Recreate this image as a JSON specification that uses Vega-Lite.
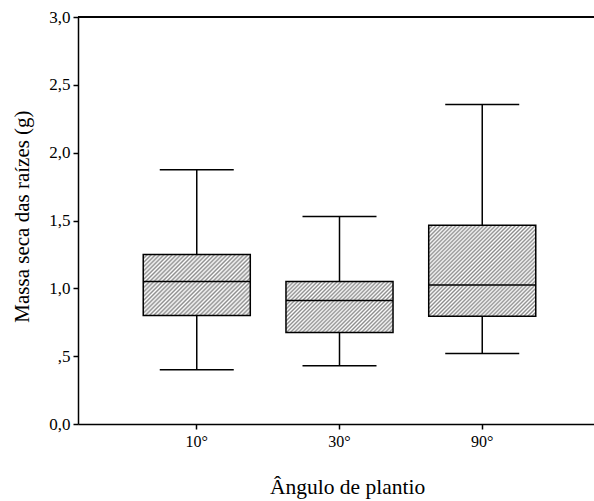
{
  "$schema": "https://vega.github.io/schema/vega-lite/v6.json",
  "width": 516,
  "height": 407,
  "autosize": {"type": "none"},
  "padding": {"left": 78, "top": 17, "right": 0, "bottom": 77},
  "background": "white",
  "config": {
    "view": {"stroke": null},
    "font": "Liberation Serif",
    "axis": {
      "domainColor": "black", "domainWidth": 1.5,
      "tickColor": "black", "tickWidth": 1.5, "tickSize": 5,
      "labelFont": "Liberation Serif", "labelColor": "black",
      "titleFont": "Liberation Serif", "titleColor": "black", "titleFontWeight": "normal",
      "grid": false
    }
  },
  "data": {
    "values": [
      {"angulo": "10°", "min": 0.40, "q1": 0.80, "median": 1.05, "q3": 1.25, "max": 1.875},
      {"angulo": "30°", "min": 0.43, "q1": 0.675, "median": 0.91, "q3": 1.05, "max": 1.53},
      {"angulo": "90°", "min": 0.52, "q1": 0.795, "median": 1.025, "q3": 1.465, "max": 2.355}
    ]
  },
  "layer": [
    {
      "mark": {"type": "rule", "color": "black", "strokeWidth": 1.5},
      "encoding": {
        "x": {
          "field": "angulo", "type": "nominal",
          "scale": {"type": "band", "domain": ["10°", "30°", "90°"], "range": [0, 523], "paddingInner": 0, "paddingOuter": 0.332},
          "axis": {"title": "Ângulo de plantio", "labelAngle": 0, "labelFontSize": 16, "labelPadding": 4, "titleFontSize": 21.5, "titlePadding": 27, "titleX": 269}
        },
        "y": {"field": "min", "type": "quantitative", "title": "Massa seca das raízes (g)",
          "scale": {"domain": [0, 3], "nice": false, "zero": true},
          "axis": {"values": [0, 0.5, 1, 1.5, 2, 2.5, 3], "labelExpr": "datum.value == 0.5 ? ',5' : replace(format(datum.value, '.1f'), '.', ',')", "labelFontSize": 17, "labelPadding": 3, "titleFontSize": 21, "titlePadding": 16, "titleY": 199}},
        "y2": {"field": "q1"}
      }
    },
    {
      "mark": {"type": "rule", "color": "black", "strokeWidth": 1.5},
      "encoding": {
        "x": {"field": "angulo", "type": "nominal", "title": "Ângulo de plantio"},
        "y": {"field": "q3", "type": "quantitative", "title": "Massa seca das raízes (g)"},
        "y2": {"field": "max"}
      }
    },
    {
      "mark": {"type": "tick", "color": "black", "size": 74, "thickness": 1.5, "opacity": 1},
      "encoding": {
        "x": {"field": "angulo", "type": "nominal", "title": "Ângulo de plantio"},
        "y": {"field": "min", "type": "quantitative", "title": "Massa seca das raízes (g)"}
      }
    },
    {
      "mark": {"type": "tick", "color": "black", "size": 74, "thickness": 1.5, "opacity": 1},
      "encoding": {
        "x": {"field": "angulo", "type": "nominal", "title": "Ângulo de plantio"},
        "y": {"field": "max", "type": "quantitative", "title": "Massa seca das raízes (g)"}
      }
    },
    {
      "transform": [{"filter": "datum.angulo == '10°'"}],
      "mark": {"type": "bar", "width": {"band": 0.75}, "stroke": "black", "strokeWidth": 1.5,
        "fill": {"gradient": "linear", "x1": 0, "y1": 0, "x2": 1.185, "y2": 0.6758, "stops": [
          {"offset": 0, "color": "#8c8c8c"}, {"offset": 0.0125, "color": "#ffffff"}, {"offset": 0.025, "color": "#8c8c8c"}, {"offset": 0.0375, "color": "#ffffff"}, {"offset": 0.05, "color": "#8c8c8c"}, {"offset": 0.0625, "color": "#ffffff"}, {"offset": 0.075, "color": "#8c8c8c"}, {"offset": 0.0875, "color": "#ffffff"}, {"offset": 0.1, "color": "#8c8c8c"}, {"offset": 0.1125, "color": "#ffffff"}, {"offset": 0.125, "color": "#8c8c8c"}, {"offset": 0.1375, "color": "#ffffff"}, {"offset": 0.15, "color": "#8c8c8c"}, {"offset": 0.1625, "color": "#ffffff"}, {"offset": 0.175, "color": "#8c8c8c"}, {"offset": 0.1875, "color": "#ffffff"}, {"offset": 0.2, "color": "#8c8c8c"}, {"offset": 0.2125, "color": "#ffffff"}, {"offset": 0.225, "color": "#8c8c8c"}, {"offset": 0.2375, "color": "#ffffff"}, {"offset": 0.25, "color": "#8c8c8c"}, {"offset": 0.2625, "color": "#ffffff"}, {"offset": 0.275, "color": "#8c8c8c"}, {"offset": 0.2875, "color": "#ffffff"}, {"offset": 0.3, "color": "#8c8c8c"}, {"offset": 0.3125, "color": "#ffffff"}, {"offset": 0.325, "color": "#8c8c8c"}, {"offset": 0.3375, "color": "#ffffff"}, {"offset": 0.35, "color": "#8c8c8c"}, {"offset": 0.3625, "color": "#ffffff"}, {"offset": 0.375, "color": "#8c8c8c"}, {"offset": 0.3875, "color": "#ffffff"}, {"offset": 0.4, "color": "#8c8c8c"}, {"offset": 0.4125, "color": "#ffffff"}, {"offset": 0.425, "color": "#8c8c8c"}, {"offset": 0.4375, "color": "#ffffff"}, {"offset": 0.45, "color": "#8c8c8c"}, {"offset": 0.4625, "color": "#ffffff"}, {"offset": 0.475, "color": "#8c8c8c"}, {"offset": 0.4875, "color": "#ffffff"}, {"offset": 0.5, "color": "#8c8c8c"}, {"offset": 0.5125, "color": "#ffffff"}, {"offset": 0.525, "color": "#8c8c8c"}, {"offset": 0.5375, "color": "#ffffff"}, {"offset": 0.55, "color": "#8c8c8c"}, {"offset": 0.5625, "color": "#ffffff"}, {"offset": 0.575, "color": "#8c8c8c"}, {"offset": 0.5875, "color": "#ffffff"}, {"offset": 0.6, "color": "#8c8c8c"}, {"offset": 0.6125, "color": "#ffffff"}, {"offset": 0.625, "color": "#8c8c8c"}, {"offset": 0.6375, "color": "#ffffff"}, {"offset": 0.65, "color": "#8c8c8c"}, {"offset": 0.6625, "color": "#ffffff"}, {"offset": 0.675, "color": "#8c8c8c"}, {"offset": 0.6875, "color": "#ffffff"}, {"offset": 0.7, "color": "#8c8c8c"}, {"offset": 0.7125, "color": "#ffffff"}, {"offset": 0.725, "color": "#8c8c8c"}, {"offset": 0.7375, "color": "#ffffff"}, {"offset": 0.75, "color": "#8c8c8c"}, {"offset": 0.7625, "color": "#ffffff"}, {"offset": 0.775, "color": "#8c8c8c"}, {"offset": 0.7875, "color": "#ffffff"}, {"offset": 0.8, "color": "#8c8c8c"}, {"offset": 0.8125, "color": "#ffffff"}, {"offset": 0.825, "color": "#8c8c8c"}, {"offset": 0.8375, "color": "#ffffff"}, {"offset": 0.85, "color": "#8c8c8c"}, {"offset": 0.8625, "color": "#ffffff"}, {"offset": 0.875, "color": "#8c8c8c"}, {"offset": 0.8875, "color": "#ffffff"}, {"offset": 0.9, "color": "#8c8c8c"}, {"offset": 0.9125, "color": "#ffffff"}, {"offset": 0.925, "color": "#8c8c8c"}, {"offset": 0.9375, "color": "#ffffff"}, {"offset": 0.95, "color": "#8c8c8c"}, {"offset": 0.9625, "color": "#ffffff"}, {"offset": 0.975, "color": "#8c8c8c"}, {"offset": 0.9875, "color": "#ffffff"}, {"offset": 1, "color": "#8c8c8c"}
        ]}},
      "encoding": {
        "x": {"field": "angulo", "type": "nominal", "title": "Ângulo de plantio"},
        "y": {"field": "q1", "type": "quantitative", "title": "Massa seca das raízes (g)"},
        "y2": {"field": "q3"}
      }
    },
    {
      "transform": [{"filter": "datum.angulo == '30°'"}],
      "mark": {"type": "bar", "width": {"band": 0.75}, "stroke": "black", "strokeWidth": 1.5,
        "fill": {"gradient": "linear", "x1": 0, "y1": 0, "x2": 1.2034, "y2": 0.5722, "stops": [
          {"offset": 0, "color": "#8c8c8c"}, {"offset": 0.0125, "color": "#ffffff"}, {"offset": 0.025, "color": "#8c8c8c"}, {"offset": 0.0375, "color": "#ffffff"}, {"offset": 0.05, "color": "#8c8c8c"}, {"offset": 0.0625, "color": "#ffffff"}, {"offset": 0.075, "color": "#8c8c8c"}, {"offset": 0.0875, "color": "#ffffff"}, {"offset": 0.1, "color": "#8c8c8c"}, {"offset": 0.1125, "color": "#ffffff"}, {"offset": 0.125, "color": "#8c8c8c"}, {"offset": 0.1375, "color": "#ffffff"}, {"offset": 0.15, "color": "#8c8c8c"}, {"offset": 0.1625, "color": "#ffffff"}, {"offset": 0.175, "color": "#8c8c8c"}, {"offset": 0.1875, "color": "#ffffff"}, {"offset": 0.2, "color": "#8c8c8c"}, {"offset": 0.2125, "color": "#ffffff"}, {"offset": 0.225, "color": "#8c8c8c"}, {"offset": 0.2375, "color": "#ffffff"}, {"offset": 0.25, "color": "#8c8c8c"}, {"offset": 0.2625, "color": "#ffffff"}, {"offset": 0.275, "color": "#8c8c8c"}, {"offset": 0.2875, "color": "#ffffff"}, {"offset": 0.3, "color": "#8c8c8c"}, {"offset": 0.3125, "color": "#ffffff"}, {"offset": 0.325, "color": "#8c8c8c"}, {"offset": 0.3375, "color": "#ffffff"}, {"offset": 0.35, "color": "#8c8c8c"}, {"offset": 0.3625, "color": "#ffffff"}, {"offset": 0.375, "color": "#8c8c8c"}, {"offset": 0.3875, "color": "#ffffff"}, {"offset": 0.4, "color": "#8c8c8c"}, {"offset": 0.4125, "color": "#ffffff"}, {"offset": 0.425, "color": "#8c8c8c"}, {"offset": 0.4375, "color": "#ffffff"}, {"offset": 0.45, "color": "#8c8c8c"}, {"offset": 0.4625, "color": "#ffffff"}, {"offset": 0.475, "color": "#8c8c8c"}, {"offset": 0.4875, "color": "#ffffff"}, {"offset": 0.5, "color": "#8c8c8c"}, {"offset": 0.5125, "color": "#ffffff"}, {"offset": 0.525, "color": "#8c8c8c"}, {"offset": 0.5375, "color": "#ffffff"}, {"offset": 0.55, "color": "#8c8c8c"}, {"offset": 0.5625, "color": "#ffffff"}, {"offset": 0.575, "color": "#8c8c8c"}, {"offset": 0.5875, "color": "#ffffff"}, {"offset": 0.6, "color": "#8c8c8c"}, {"offset": 0.6125, "color": "#ffffff"}, {"offset": 0.625, "color": "#8c8c8c"}, {"offset": 0.6375, "color": "#ffffff"}, {"offset": 0.65, "color": "#8c8c8c"}, {"offset": 0.6625, "color": "#ffffff"}, {"offset": 0.675, "color": "#8c8c8c"}, {"offset": 0.6875, "color": "#ffffff"}, {"offset": 0.7, "color": "#8c8c8c"}, {"offset": 0.7125, "color": "#ffffff"}, {"offset": 0.725, "color": "#8c8c8c"}, {"offset": 0.7375, "color": "#ffffff"}, {"offset": 0.75, "color": "#8c8c8c"}, {"offset": 0.7625, "color": "#ffffff"}, {"offset": 0.775, "color": "#8c8c8c"}, {"offset": 0.7875, "color": "#ffffff"}, {"offset": 0.8, "color": "#8c8c8c"}, {"offset": 0.8125, "color": "#ffffff"}, {"offset": 0.825, "color": "#8c8c8c"}, {"offset": 0.8375, "color": "#ffffff"}, {"offset": 0.85, "color": "#8c8c8c"}, {"offset": 0.8625, "color": "#ffffff"}, {"offset": 0.875, "color": "#8c8c8c"}, {"offset": 0.8875, "color": "#ffffff"}, {"offset": 0.9, "color": "#8c8c8c"}, {"offset": 0.9125, "color": "#ffffff"}, {"offset": 0.925, "color": "#8c8c8c"}, {"offset": 0.9375, "color": "#ffffff"}, {"offset": 0.95, "color": "#8c8c8c"}, {"offset": 0.9625, "color": "#ffffff"}, {"offset": 0.975, "color": "#8c8c8c"}, {"offset": 0.9875, "color": "#ffffff"}, {"offset": 1, "color": "#8c8c8c"}
        ]}},
      "encoding": {
        "x": {"field": "angulo", "type": "nominal", "title": "Ângulo de plantio"},
        "y": {"field": "q1", "type": "quantitative", "title": "Massa seca das raízes (g)"},
        "y2": {"field": "q3"}
      }
    },
    {
      "transform": [{"filter": "datum.angulo == '90°'"}],
      "mark": {"type": "bar", "width": {"band": 0.75}, "stroke": "black", "strokeWidth": 1.5,
        "fill": {"gradient": "linear", "x1": 0, "y1": 0, "x2": 1.0744, "y2": 0.9123, "stops": [
          {"offset": 0, "color": "#8c8c8c"}, {"offset": 0.01, "color": "#ffffff"}, {"offset": 0.02, "color": "#8c8c8c"}, {"offset": 0.03, "color": "#ffffff"}, {"offset": 0.04, "color": "#8c8c8c"}, {"offset": 0.05, "color": "#ffffff"}, {"offset": 0.06, "color": "#8c8c8c"}, {"offset": 0.07, "color": "#ffffff"}, {"offset": 0.08, "color": "#8c8c8c"}, {"offset": 0.09, "color": "#ffffff"}, {"offset": 0.1, "color": "#8c8c8c"}, {"offset": 0.11, "color": "#ffffff"}, {"offset": 0.12, "color": "#8c8c8c"}, {"offset": 0.13, "color": "#ffffff"}, {"offset": 0.14, "color": "#8c8c8c"}, {"offset": 0.15, "color": "#ffffff"}, {"offset": 0.16, "color": "#8c8c8c"}, {"offset": 0.17, "color": "#ffffff"}, {"offset": 0.18, "color": "#8c8c8c"}, {"offset": 0.19, "color": "#ffffff"}, {"offset": 0.2, "color": "#8c8c8c"}, {"offset": 0.21, "color": "#ffffff"}, {"offset": 0.22, "color": "#8c8c8c"}, {"offset": 0.23, "color": "#ffffff"}, {"offset": 0.24, "color": "#8c8c8c"}, {"offset": 0.25, "color": "#ffffff"}, {"offset": 0.26, "color": "#8c8c8c"}, {"offset": 0.27, "color": "#ffffff"}, {"offset": 0.28, "color": "#8c8c8c"}, {"offset": 0.29, "color": "#ffffff"}, {"offset": 0.3, "color": "#8c8c8c"}, {"offset": 0.31, "color": "#ffffff"}, {"offset": 0.32, "color": "#8c8c8c"}, {"offset": 0.33, "color": "#ffffff"}, {"offset": 0.34, "color": "#8c8c8c"}, {"offset": 0.35, "color": "#ffffff"}, {"offset": 0.36, "color": "#8c8c8c"}, {"offset": 0.37, "color": "#ffffff"}, {"offset": 0.38, "color": "#8c8c8c"}, {"offset": 0.39, "color": "#ffffff"}, {"offset": 0.4, "color": "#8c8c8c"}, {"offset": 0.41, "color": "#ffffff"}, {"offset": 0.42, "color": "#8c8c8c"}, {"offset": 0.43, "color": "#ffffff"}, {"offset": 0.44, "color": "#8c8c8c"}, {"offset": 0.45, "color": "#ffffff"}, {"offset": 0.46, "color": "#8c8c8c"}, {"offset": 0.47, "color": "#ffffff"}, {"offset": 0.48, "color": "#8c8c8c"}, {"offset": 0.49, "color": "#ffffff"}, {"offset": 0.5, "color": "#8c8c8c"}, {"offset": 0.51, "color": "#ffffff"}, {"offset": 0.52, "color": "#8c8c8c"}, {"offset": 0.53, "color": "#ffffff"}, {"offset": 0.54, "color": "#8c8c8c"}, {"offset": 0.55, "color": "#ffffff"}, {"offset": 0.56, "color": "#8c8c8c"}, {"offset": 0.57, "color": "#ffffff"}, {"offset": 0.58, "color": "#8c8c8c"}, {"offset": 0.59, "color": "#ffffff"}, {"offset": 0.6, "color": "#8c8c8c"}, {"offset": 0.61, "color": "#ffffff"}, {"offset": 0.62, "color": "#8c8c8c"}, {"offset": 0.63, "color": "#ffffff"}, {"offset": 0.64, "color": "#8c8c8c"}, {"offset": 0.65, "color": "#ffffff"}, {"offset": 0.66, "color": "#8c8c8c"}, {"offset": 0.67, "color": "#ffffff"}, {"offset": 0.68, "color": "#8c8c8c"}, {"offset": 0.69, "color": "#ffffff"}, {"offset": 0.7, "color": "#8c8c8c"}, {"offset": 0.71, "color": "#ffffff"}, {"offset": 0.72, "color": "#8c8c8c"}, {"offset": 0.73, "color": "#ffffff"}, {"offset": 0.74, "color": "#8c8c8c"}, {"offset": 0.75, "color": "#ffffff"}, {"offset": 0.76, "color": "#8c8c8c"}, {"offset": 0.77, "color": "#ffffff"}, {"offset": 0.78, "color": "#8c8c8c"}, {"offset": 0.79, "color": "#ffffff"}, {"offset": 0.8, "color": "#8c8c8c"}, {"offset": 0.81, "color": "#ffffff"}, {"offset": 0.82, "color": "#8c8c8c"}, {"offset": 0.83, "color": "#ffffff"}, {"offset": 0.84, "color": "#8c8c8c"}, {"offset": 0.85, "color": "#ffffff"}, {"offset": 0.86, "color": "#8c8c8c"}, {"offset": 0.87, "color": "#ffffff"}, {"offset": 0.88, "color": "#8c8c8c"}, {"offset": 0.89, "color": "#ffffff"}, {"offset": 0.9, "color": "#8c8c8c"}, {"offset": 0.91, "color": "#ffffff"}, {"offset": 0.92, "color": "#8c8c8c"}, {"offset": 0.93, "color": "#ffffff"}, {"offset": 0.94, "color": "#8c8c8c"}, {"offset": 0.95, "color": "#ffffff"}, {"offset": 0.96, "color": "#8c8c8c"}, {"offset": 0.97, "color": "#ffffff"}, {"offset": 0.98, "color": "#8c8c8c"}, {"offset": 0.99, "color": "#ffffff"}, {"offset": 1, "color": "#8c8c8c"}
        ]}},
      "encoding": {
        "x": {"field": "angulo", "type": "nominal", "title": "Ângulo de plantio"},
        "y": {"field": "q1", "type": "quantitative", "title": "Massa seca das raízes (g)"},
        "y2": {"field": "q3"}
      }
    },
    {
      "mark": {"type": "tick", "color": "black", "size": 107, "thickness": 1.5, "opacity": 1},
      "encoding": {
        "x": {"field": "angulo", "type": "nominal", "title": "Ângulo de plantio"},
        "y": {"field": "median", "type": "quantitative", "title": "Massa seca das raízes (g)"}
      }
    },
    {
      "mark": {"type": "rule", "color": "black", "strokeWidth": 1.5},
      "encoding": {"y": {"datum": 3, "type": "quantitative"}}
    }
  ]
}
